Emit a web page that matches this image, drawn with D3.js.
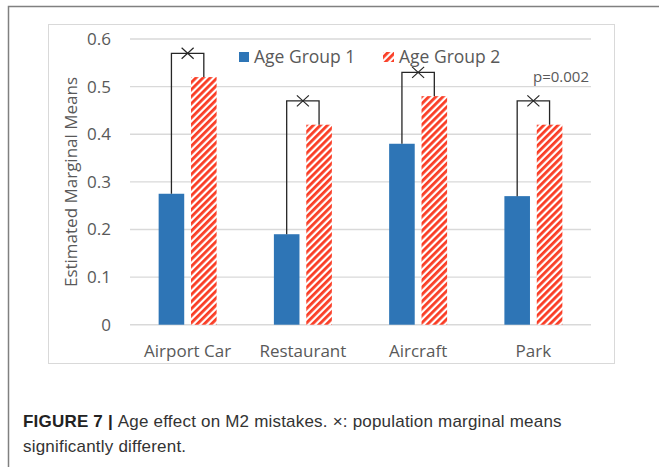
<!DOCTYPE html>
<meta charset="utf-8">
<style>
body { margin: 0; background: #fff; }
text { font-family: 'Open Sans', sans-serif; fill: #595959; }
.caption text { font-family: 'Liberation Sans', sans-serif; fill: #333; letter-spacing: 0.2px; }
</style>
<body>
<div id="chart"></div>
<script src="https://cdn.jsdelivr.net/npm/d3@7"></script>
<script>

var categories = ["Airport Car", "Restaurant", "Aircraft", "Park"];
var series = ["Age Group 1", "Age Group 2"];
var group1 = [0.275, 0.19, 0.38, 0.27];
var group2 = [0.52, 0.42, 0.48, 0.42];
var bracketTop = [0.57, 0.47, 0.53, 0.47];
var yTicks = [0, 0.1, 0.2, 0.3, 0.4, 0.5, 0.6];
var pNote = "p=0.002";

var width = 659,
    height = 467;

var blue = "#2e75b6",
    red = "#fa3c24";

var svg = d3.select("#chart").append("svg")
    .attr("width", width)
    .attr("height", height);

// hatch for group 2
var defs = svg.append("defs");
var pat = defs.append("pattern")
    .attr("id", "hatch")
    .attr("patternUnits", "userSpaceOnUse")
    .attr("width", 5)
    .attr("height", 5)
    .attr("patternTransform", "rotate(45)");
pat.append("rect").attr("width", 5).attr("height", 5).attr("fill", "#fff");
pat.append("rect").attr("width", 2.8).attr("height", 5).attr("fill", red);

// outer frame (top + left only)
svg.append("path")
    .attr("d", "M8.5," + height + "V6.5H" + width)
    .attr("fill", "none")
    .attr("stroke", "#808080")
    .attr("stroke-width", 1.5);

// chart area border
svg.append("rect")
    .attr("x", 48.5).attr("y", 24.5)
    .attr("width", 566).attr("height", 339)
    .attr("fill", "#fff")
    .attr("stroke", "#d9d9d9");

var y = d3.scaleLinear().domain([0, 0.6]).range([324.7, 39]);

var x0 = d3.scaleBand().domain(categories).range([130, 591])
    .paddingInner(0.497).paddingOuter(0.2485);
var x1 = d3.scaleBand().domain(series).range([0, x0.bandwidth()])
    .paddingInner(0.21).paddingOuter(0);

// gridlines
svg.append("g").selectAll("line")
    .data(yTicks)
    .enter().append("line")
    .attr("x1", 130).attr("x2", 591)
    .attr("y1", function(d) { return y(d); })
    .attr("y2", function(d) { return y(d); })
    .attr("stroke", "#d9d9d9")
    .attr("stroke-width", 1.4);

// y tick labels
svg.append("g").selectAll("text")
    .data(yTicks)
    .enter().append("text")
    .attr("x", 111)
    .attr("y", function(d) { return y(d) + 6; })
    .attr("text-anchor", "end")
    .style("font-size", "17px")
    .text(function(d) { return d === 0 ? "0" : d3.format(".1f")(d); });

// y axis title
svg.append("text")
    .attr("transform", "translate(77,182) rotate(-90)")
    .attr("text-anchor", "middle")
    .style("font-size", "17px")
    .text("Estimated Marginal Means");

// category labels
svg.append("g").selectAll("text")
    .data(categories)
    .enter().append("text")
    .attr("x", function(d) { return x0(d) + x0.bandwidth() / 2; })
    .attr("y", 357)
    .attr("text-anchor", "middle")
    .style("font-size", "17px")
    .text(function(d) { return d; });

var rows = categories.map(function(c, i) {
    return { cat: c, a: group1[i], b: group2[i], top: bracketTop[i] };
});

// bars
var g = svg.append("g").selectAll("g")
    .data(rows)
    .enter().append("g")
    .attr("transform", function(d) { return "translate(" + x0(d.cat) + ",0)"; });

g.append("rect")
    .attr("x", x1(series[0]))
    .attr("width", x1.bandwidth())
    .attr("y", function(d) { return y(d.a); })
    .attr("height", function(d) { return y(0) - y(d.a); })
    .attr("fill", blue);

g.append("rect")
    .attr("x", x1(series[1]))
    .attr("width", x1.bandwidth())
    .attr("y", function(d) { return y(d.b); })
    .attr("height", function(d) { return y(0) - y(d.b); })
    .attr("fill", "url(#hatch)");

// significance brackets
var cA = x1(series[0]) + x1.bandwidth() / 2,
    cB = x1(series[1]) + x1.bandwidth() / 2;

g.append("path")
    .attr("d", function(d) {
        return "M" + cA + "," + y(d.a) + "V" + y(d.top) + "H" + cB + "V" + y(d.b);
    })
    .attr("fill", "none")
    .attr("stroke", "#262626")
    .attr("stroke-width", 1.3);

g.append("path")
    .attr("d", function(d) {
        var mx = (cA + cB) / 2, my = y(d.top);
        return "M" + (mx - 6) + "," + (my - 5.5) + "L" + (mx + 6) + "," + (my + 5.5) +
               "M" + (mx + 6) + "," + (my - 5.5) + "L" + (mx - 6) + "," + (my + 5.5);
    })
    .attr("stroke", "#262626")
    .attr("stroke-width", 1.2);

// p note above Park
svg.append("text")
    .attr("x", 589)
    .attr("y", 82)
    .attr("text-anchor", "end")
    .style("font-size", "15px")
    .text(pNote);

// legend
var legend = svg.append("g");
legend.append("rect").attr("x", 239).attr("y", 52).attr("width", 10).attr("height", 10).attr("fill", blue);
legend.append("text").attr("x", 254).attr("y", 62.5).style("font-size", "17.5px").text(series[0]);
legend.append("rect").attr("x", 383).attr("y", 52).attr("width", 11).attr("height", 10).attr("fill", "url(#hatch)");
legend.append("text").attr("x", 399).attr("y", 62.5).style("font-size", "17.5px").text(series[1]);

// caption
var cap = svg.append("g").attr("class", "caption");
var l1 = cap.append("text").attr("x", 23).attr("y", 427).style("font-size", "17px");
l1.append("tspan").style("font-weight", "bold").style("fill", "#222").text("FIGURE 7 | ");
l1.append("tspan").text("Age effect on M2 mistakes. \u00d7: population marginal means");
cap.append("text").attr("x", 23).attr("y", 452).style("font-size", "17px")
    .text("significantly different.");

</script>
</body>
